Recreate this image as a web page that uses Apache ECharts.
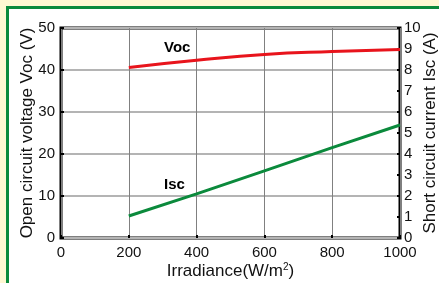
<!DOCTYPE html>
<html>
<head>
<meta charset="utf-8">
<script src="https://cdn.jsdelivr.net/npm/echarts@6/dist/echarts.min.js"></script>
<style>
  html, body { margin: 0; padding: 0; background: #fff8d2; }
  #chart { width: 439px; height: 283px; }
</style>
</head>
<body>
<div id="chart"></div>
<script>
// irradiance (W/m2)
var irradiance = [200, 400, 600, 800, 1000];
// open circuit voltage (V)
var vocValues = [40.6, 42.3, 43.7, 44.4, 44.9];
// short circuit current (A)
var iscValues = [1.05, 2.1, 3.2, 4.3, 5.38];

var FONT = 'Liberation Sans, Arial, sans-serif';

var chart = echarts.init(document.getElementById('chart'));

chart.setOption({
    backgroundColor: '#fff8d2',
    animation: false,
    textStyle: { fontFamily: FONT },
    graphic: [
        // white panel with green frame
        {
            type: 'rect', z: -10,
            shape: { x: 7.5, y: 7.5, width: 440, height: 290 },
            style: { fill: '#ffffff', stroke: '#0b8a3c', lineWidth: 3 }
        },
        {
            type: 'text', left: 164, top: 40, z: 10,
            style: { text: 'Voc', font: 'bold 15px ' + FONT, fill: '#000' }
        },
        {
            type: 'text', left: 164, top: 177, z: 10,
            style: { text: 'Isc', font: 'bold 15px ' + FONT, fill: '#000' }
        }
    ],
    grid: {
        left: 61, top: 28, right: 39, bottom: 45,
        outerBoundsMode: 'none', containLabel: false,
        show: true, borderColor: '#000', borderWidth: 3, backgroundColor: 'transparent'
    },
    xAxis: {
        type: 'value', min: 0, max: 1000, interval: 200,
        name: 'Irradiance(W/m{sup|2})',
        nameLocation: 'middle', nameGap: 24, nameMoveOverlap: false,
        nameTextStyle: {
            fontSize: 17, color: '#111', fontFamily: FONT,
            rich: { sup: { fontSize: 10, verticalAlign: 'top', padding: [0, 0, 8, 0] } }
        },
        axisLine: { show: false },
        axisTick: { inside: true, length: 3, lineStyle: { color: '#000', width: 2 } },
        axisLabel: { fontSize: 15, color: '#111', margin: 7, formatter: function (v) { return String(v); } },
        splitLine: { show: true, lineStyle: { color: '#808080', width: 1 } }
    },
    yAxis: [
        {
            type: 'value', min: 0, max: 50, interval: 10,
            name: 'Open circuit voltage Voc (V)',
            nameLocation: 'middle', nameGap: 25, nameRotate: 90, nameMoveOverlap: false,
            nameTextStyle: { fontSize: 17, color: '#111' },
            axisLine: { show: false },
            axisTick: { inside: true, length: 3, lineStyle: { color: '#000', width: 2 } },
            axisLabel: { fontSize: 15, color: '#111', margin: 6 },
            splitLine: { show: true, lineStyle: { color: '#b4b4b4', width: 2 } }
        },
        {
            type: 'value', min: 0, max: 10, interval: 1,
            name: 'Short circuit current Isc (A)',
            nameLocation: 'middle', nameGap: 22, nameRotate: 90, nameMoveOverlap: false,
            nameTextStyle: { fontSize: 17, color: '#111' },
            axisLine: { show: false },
            axisTick: { inside: true, length: 3, lineStyle: { color: '#000', width: 2 } },
            axisLabel: { fontSize: 15, color: '#111', margin: 4 },
            splitLine: { show: false }
        }
    ],
    series: [
        {
            name: 'Voc', type: 'line', yAxisIndex: 0,
            data: irradiance.map(function (x, i) { return [x, vocValues[i]]; }),
            showSymbol: false, smooth: true,
            lineStyle: { color: '#e8141c', width: 3 }
        },
        {
            name: 'Isc', type: 'line', yAxisIndex: 1,
            data: irradiance.map(function (x, i) { return [x, iscValues[i]]; }),
            showSymbol: false,
            lineStyle: { color: '#0b8a3c', width: 3 }
        }
    ]
});
</script>
</body>
</html>
